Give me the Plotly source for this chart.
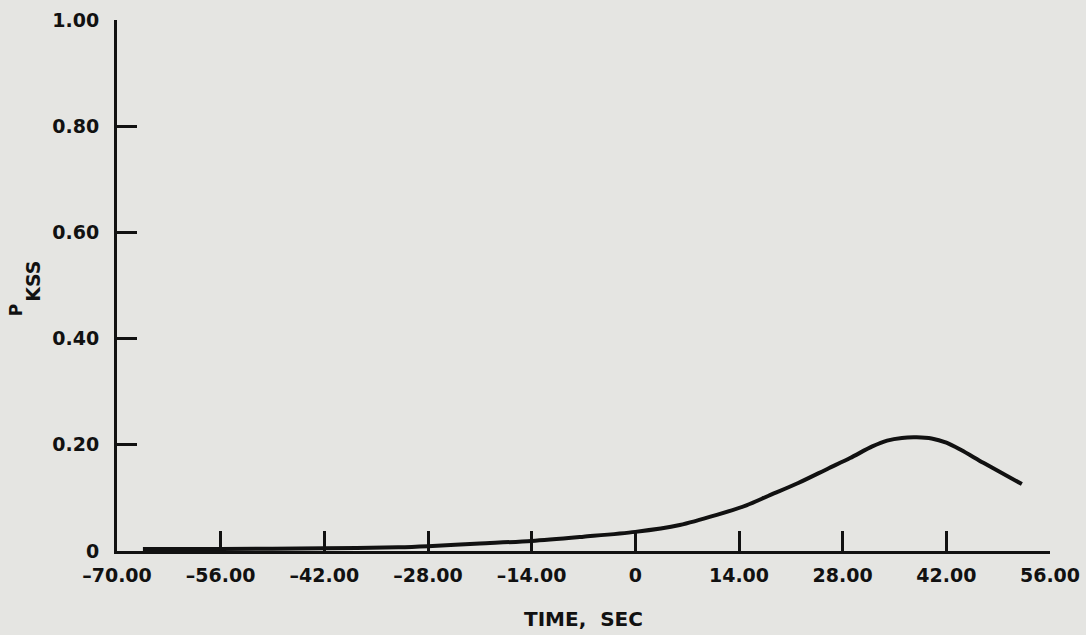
import plotly.graph_objects as go

# Data
time_sec = [-66.5, -56, -42, -32, -28, -21, -14, -7, 0, 6, 11, 15, 18, 22, 26, 29, 32, 34, 36, 38, 40, 42, 44, 47, 52.2]
p_kss = [0.004, 0.004, 0.005, 0.007, 0.009, 0.014, 0.019, 0.027, 0.036, 0.049, 0.068, 0.086, 0.104, 0.128, 0.155, 0.175, 0.197, 0.208, 0.213, 0.214, 0.212, 0.204, 0.19, 0.166, 0.126]

x_ticks = [-70, -56, -42, -28, -14, 0, 14, 28, 42, 56]
x_ticktext = ["–70.00", "–56.00", "–42.00", "–28.00", "–14.00", "0", "14.00", "28.00", "42.00", "56.00"]
y_ticks = [0, 0.2, 0.4, 0.6, 0.8, 1.0]
y_ticktext = ["0", "0.20", "0.40", "0.60", "0.80", "1.00"]

BG = "#e5e5e2"
INK = "#111111"
FONT = "DejaVu Sans"

fig = go.Figure()
fig.add_trace(go.Scatter(
    x=time_sec, y=p_kss, mode="lines",
    line=dict(color=INK, width=4, shape="spline", smoothing=0.8),
    showlegend=False, hoverinfo="skip",
))

fig.update_layout(
    width=1086, height=635,
    margin=dict(l=117, r=36, t=20, b=84),
    paper_bgcolor=BG, plot_bgcolor=BG,
    font=dict(family=FONT, color=INK),
    xaxis=dict(
        range=[-70, 56], showgrid=False, zeroline=False, automargin=False,
        showline=True, linecolor=INK, linewidth=3,
        ticks="inside", ticklen=20, tickwidth=3, tickcolor=INK,
        tickvals=x_ticks, ticktext=x_ticktext,
        tickfont=dict(family=FONT, size=19, color=INK, weight="bold"),
        ticklabelstandoff=5,
        title=dict(text="<b>TIME,  SEC</b>", font=dict(family=FONT, size=20, color=INK), standoff=28),
    ),
    yaxis=dict(
        range=[0, 1.0], showgrid=False, zeroline=False, automargin=False,
        showline=True, linecolor=INK, linewidth=3,
        ticks="inside", ticklen=20, tickwidth=3, tickcolor=INK,
        tickvals=y_ticks, ticktext=y_ticktext,
        tickfont=dict(family=FONT, size=19, color=INK, weight="bold"),
        ticklabelstandoff=11,
    ),
)

fig.add_annotation(
    text="<b>P</b>",
    xref="paper", yref="paper", x=-0.108, y=0.454,
    xanchor="center", yanchor="middle", textangle=-90, showarrow=False,
    font=dict(family=FONT, size=17, color=INK),
)
fig.add_annotation(
    text="<b>KSS</b>",
    xref="paper", yref="paper", x=-0.090, y=0.507,
    xanchor="center", yanchor="middle", textangle=-90, showarrow=False,
    font=dict(family=FONT, size=19, color=INK),
)

fig.write_html("out.html")
